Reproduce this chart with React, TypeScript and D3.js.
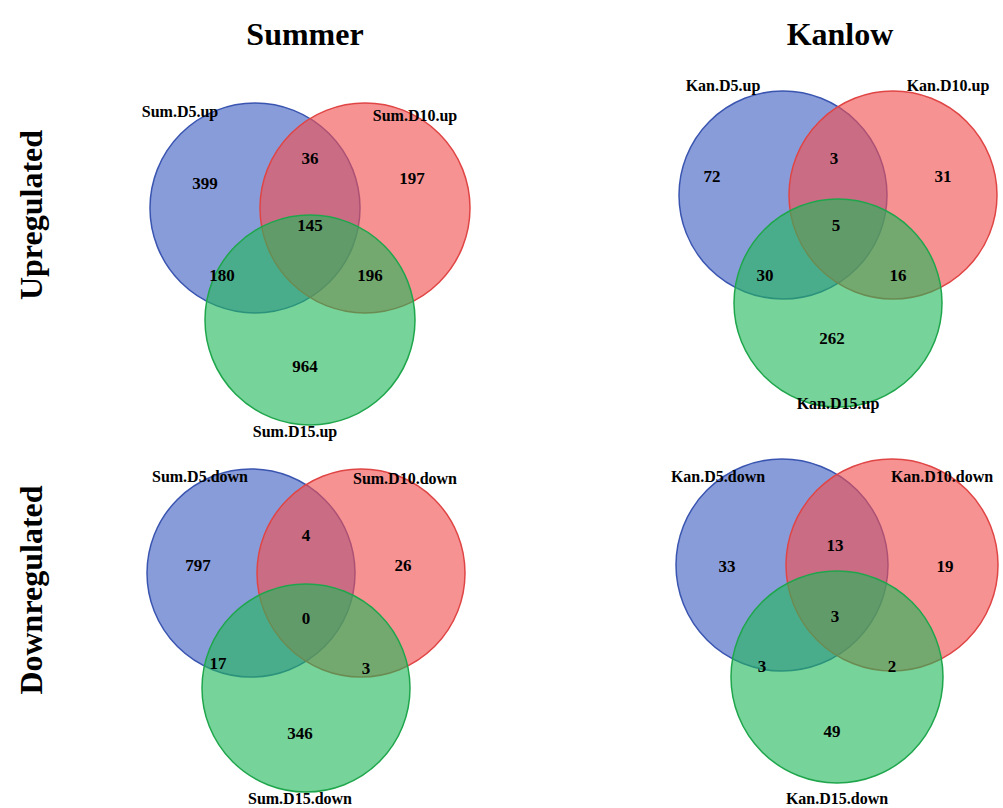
import * as d3 from "d3";

// region counts in order: A only, AB, B only, ABC, AC, BC, C only
const sumUpCounts = [399, 36, 197, 145, 180, 196, 964];
const kanUpCounts = [72, 3, 31, 5, 30, 16, 262];
const sumDownCounts = [797, 4, 26, 0, 17, 3, 346];
const kanDownCounts = [33, 13, 19, 3, 3, 2, 49];

const sumUpSets = ["Sum.D5.up", "Sum.D10.up", "Sum.D15.up"];
const kanUpSets = ["Kan.D5.up", "Kan.D10.up", "Kan.D15.up"];
const sumDownSets = ["Sum.D5.down", "Sum.D10.down", "Sum.D15.down"];
const kanDownSets = ["Kan.D5.down", "Kan.D10.down", "Kan.D15.down"];

const colTitles = ["Summer", "Kanlow"];
const rowTitles = ["Upregulated", "Downregulated"];

const colors = ["#3f5fc4", "#f24f4f", "#22b85a"];
const strokes = ["#3a55b0", "#e04545", "#1fa64c"];

const panels = [
  { cx: 310, cy: 208, green: 112, r: 105, counts: sumUpCounts, sets: sumUpSets,
    setPos: [[-130, -95], [105, -91], [-15, 225]],
    regionPos: [[-105, -23], [0, -48], [102, -28], [0, 19], [-88, 69], [60, 69], [-5, 160]] },
  { cx: 838, cy: 195, green: 108, r: 104, counts: kanUpCounts, sets: kanUpSets,
    setPos: [[-115, -108], [110, -108], [0, 210]],
    regionPos: [[-126, -17], [-4, -35], [105, -17], [-2, 32], [-73, 82], [60, 82], [-6, 145]] },
  { cx: 306, cy: 573, green: 115, r: 104, counts: sumDownCounts, sets: sumDownSets,
    setPos: [[-106, -95], [99, -93], [-6, 227]],
    regionPos: [[-108, -6], [0, -36], [97, -6], [0, 47], [-88, 92], [60, 97], [-6, 162]] },
  { cx: 837, cy: 565, green: 112, r: 106, counts: kanDownCounts, sets: kanDownSets,
    setPos: [[-119, -87], [105, -87], [0, 235]],
    regionPos: [[-110, 3], [-2, -18], [108, 3], [-2, 53], [-75, 103], [55, 103], [-5, 168]] },
];

const font = "'Liberation Serif', 'DejaVu Serif', serif";

export default function App() {
  const W = 1003, H = 808;
  return (
    <svg width={W} height={H} style={{ position: "absolute", left: 0, top: 0, background: "#fff" }}
      fontFamily={font} fontWeight="bold">
      {colTitles.map((t, i) => (
        <text key={t} x={[305, 840][i]} y={45} fontSize={32} textAnchor="middle">{t}</text>
      ))}
      {rowTitles.map((t, i) => (
        <text key={t} transform={`translate(42,${[215, 590][i]}) rotate(-90)`} fontSize={32} textAnchor="middle">{t}</text>
      ))}
      {panels.map((p, pi) => {
        const cs = [
          [p.cx - 55, p.cy],
          [p.cx + 55, p.cy],
          [p.cx, p.cy + p.green],
        ];
        return (
          <g key={pi}>
            {cs.map((c, i) => (
              <circle key={i} cx={c[0]} cy={c[1]} r={p.r} fill={colors[i]} fillOpacity={0.62}
                stroke={strokes[i]} strokeWidth={1.5} />
            ))}
            {p.counts.map((v, i) => (
              <text key={"c" + i} x={p.cx + p.regionPos[i][0]} y={p.cy + p.regionPos[i][1]}
                fontSize={17} textAnchor="middle" dominantBaseline="middle">{d3.format("d")(v)}</text>
            ))}
            {p.sets.map((s, i) => (
              <text key={s} x={p.cx + p.setPos[i][0]} y={p.cy + p.setPos[i][1]}
                fontSize={16} textAnchor="middle" dominantBaseline="middle">{s}</text>
            ))}
          </g>
        );
      })}
    </svg>
  );
}
